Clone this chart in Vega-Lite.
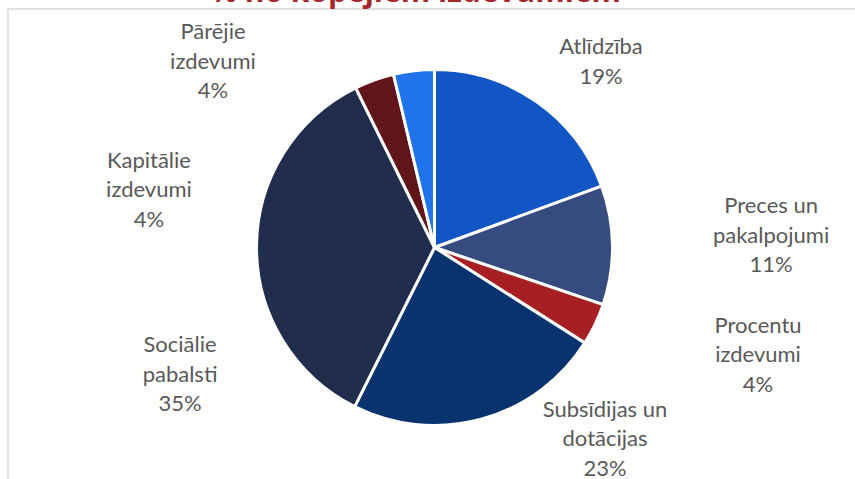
{
  "$schema": "https://vega.github.io/schema/vega-lite/v6.json",
  "autosize": "none",
  "width": 853,
  "height": 477,
  "padding": {"left": 8, "top": 9, "right": -6, "bottom": -7},
  "background": "white",
  "view": {"stroke": "#D9D9D9", "strokeWidth": 1.5},
  "title": {
    "text": "% no kopējiem izdevumiem",
    "font": "Open Sans",
    "fontSize": 30,
    "fontWeight": "bold",
    "color": "#A5282E",
    "baseline": "bottom",
    "offset": 0,
    "dy": 29,
    "dx": -19,
    "anchor": "middle"
  },
  "data": {
    "values": [
      {"category": "Atlīdzība", "value": 19.4, "label": "Atlīdzība\n19%", "rank": 1},
      {"category": "Preces un pakalpojumi", "value": 10.8, "label": "Preces un\npakalpojumi\n11%", "rank": 2},
      {"category": "Procentu izdevumi", "value": 3.8, "label": "Procentu\nizdevumi\n4%", "rank": 3},
      {"category": "Subsīdijas un dotācijas", "value": 23.4, "label": "Subsīdijas un\ndotācijas\n23%", "rank": 4},
      {"category": "Sociālie pabalsti", "value": 35.3, "label": "Sociālie\npabalsti\n35%", "rank": 5},
      {"category": "Kapitālie izdevumi", "value": 3.6, "label": "Kapitālie\nizdevumi\n4%", "rank": 6},
      {"category": "Pārējie izdevumi", "value": 3.7, "label": "Pārējie\nizdevumi\n4%", "rank": 7}
    ]
  },
  "transform": [
    {"stack": "value", "groupby": [], "sort": [{"field": "rank", "order": "ascending"}], "as": ["v0", "v1"]}
  ],
  "encoding": {
    "theta": {"field": "v0", "type": "quantitative", "scale": {"domain": [0, 100], "zero": true, "nice": false}}
  },
  "layer": [
    {
      "mark": {"type": "arc", "radius": 178, "stroke": "white", "strokeWidth": 3},
      "encoding": {
        "theta2": {"field": "v1"},
        "color": {
          "field": "category",
          "type": "nominal",
          "legend": null,
          "scale": {
            "domain": ["Atlīdzība", "Preces un pakalpojumi", "Procentu izdevumi", "Subsīdijas un dotācijas", "Sociālie pabalsti", "Kapitālie izdevumi", "Pārējie izdevumi"],
            "range": ["#1256C6", "#364B80", "#A71F22", "#09336F", "#212D4C", "#621518", "#1E74E8"]
          }
        }
      }
    },
    {
      "transform": [{"filter": "datum.category === 'Atlīdzība'"}],
      "mark": {"type": "text", "radius": 255, "thetaOffset": 0.7114, "font": "Lato", "fontSize": 22, "fill": "#595959", "lineBreak": "\n", "lineHeight": 29.5, "align": "center", "baseline": "alphabetic"},
      "encoding": {"text": {"field": "label"}}
    },
    {
      "transform": [{"filter": "datum.category === 'Preces un pakalpojumi'"}],
      "mark": {"type": "text", "radius": 338.3, "thetaOffset": 0.2498, "font": "Lato", "fontSize": 22, "fill": "#595959", "lineBreak": "\n", "lineHeight": 29.5, "align": "center", "baseline": "alphabetic"},
      "encoding": {"text": {"field": "label"}}
    },
    {
      "transform": [{"filter": "datum.category === 'Procentu izdevumi'"}],
      "mark": {"type": "text", "radius": 334.6, "thetaOffset": -0.0684, "font": "Lato", "fontSize": 22, "fill": "#595959", "lineBreak": "\n", "lineHeight": 29.5, "align": "center", "baseline": "alphabetic"},
      "encoding": {"text": {"field": "label"}}
    },
    {
      "transform": [{"filter": "datum.category === 'Subsīdijas un dotācijas'"}],
      "mark": {"type": "text", "radius": 240.4, "thetaOffset": 0.2169, "font": "Lato", "fontSize": 22, "fill": "#595959", "lineBreak": "\n", "lineHeight": 29.5, "align": "center", "baseline": "alphabetic"},
      "encoding": {"text": {"field": "label"}}
    },
    {
      "transform": [{"filter": "datum.category === 'Sociālie pabalsti'"}],
      "mark": {"type": "text", "radius": 275.1, "thetaOffset": 0.7161, "font": "Lato", "fontSize": 22, "fill": "#595959", "lineBreak": "\n", "lineHeight": 29.5, "align": "center", "baseline": "alphabetic"},
      "encoding": {"text": {"field": "label"}}
    },
    {
      "transform": [{"filter": "datum.category === 'Kapitālie izdevumi'"}],
      "mark": {"type": "text", "radius": 296.4, "thetaOffset": -0.8405, "font": "Lato", "fontSize": 22, "fill": "#595959", "lineBreak": "\n", "lineHeight": 29.5, "align": "center", "baseline": "alphabetic"},
      "encoding": {"text": {"field": "label"}}
    },
    {
      "transform": [{"filter": "datum.category === 'Pārējie izdevumi'"}],
      "mark": {"type": "text", "radius": 304.2, "thetaOffset": -0.5833, "font": "Lato", "fontSize": 22, "fill": "#595959", "lineBreak": "\n", "lineHeight": 29.5, "align": "center", "baseline": "alphabetic"},
      "encoding": {"text": {"field": "label"}}
    }
  ]
}
